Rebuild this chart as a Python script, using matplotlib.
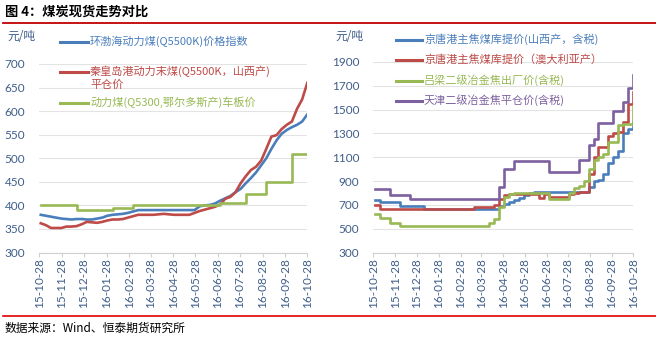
import numpy as np
import pandas as pd
import matplotlib
matplotlib.use('Agg')
import matplotlib.pyplot as plt
import matplotlib.dates as mdates
from matplotlib.lines import Line2D

plt.rcParams['font.family'] = ['Noto Sans CJK SC', 'DejaVu Sans']

# weekly observations, 2015-10-30 .. 2016-10-28
weeks = pd.date_range('2015-10-30', periods=53, freq='7D')
month_ticks = pd.date_range('2015-10-28', periods=13, freq=pd.DateOffset(months=1))

# left panel: thermal coal (yuan/t)
bohai = [380, 378, 376, 374, 372, 371, 370, 371, 371, 370,
         370, 372, 374, 378, 380, 381, 382, 384, 387, 390] + [390] * 11 + \
        [398, 400, 401, 404, 410, 415, 420, 428, 435, 447, 458,
         470, 485, 500, 520, 538, 552, 560, 566, 571, 578, 593]
qhd = [362, 358, 352, 352, 352, 355, 355, 356, 360, 365, 364, 363, 365, 368,
       370, 370, 371, 374, 377, 380, 380, 380, 380, 381, 382, 381, 380, 380,
       380, 380, 384, 388, 391, 394, 397, 402, 414, 418, 428, 447, 462, 475,
       482, 495, 520, 546, 549, 562, 571, 578, 605, 625, 660]
ordos = [400] * 7 + [390] * 7 + [395] * 4 + [400] * 17 + [405] * 5 + \
        [425] * 4 + [450] * 5 + [510] * 4
left_names = ['环渤海动力煤(Q5500K)价格指数',
              '秦皇岛港动力末煤(Q5500K，山西产)\n平仓价',
              '动力煤(Q5300,鄂尔多斯产)车板价']

# right panel: coking coal / coke (yuan/t)
sx_coking = [740] + [720] * 4 + [690] * 5 + [665] * 15 + \
            [690, 710, 720, 740, 760, 780, 800] + [810] * 11 + \
            [850, 900, 910, 960, 1050, 1100, 1150, 1300, 1340, 1400]
au_coking = [700, 668] + [665] * 18 + [680] * 4 + [700, 750, 780] + [790] * 6 + \
            [760, 790] + [770] * 4 + [790, 800, 810, 810] + \
            [960, 1100, 1190, 1190, 1280, 1300, 1310, 1400, 1550, 1650]
lvliang = [620, 590, 590, 550, 550] + [520] * 18 + [545, 580, 680, 770, 790] + \
          [800] * 7 + [750] * 4 + [800, 840, 860, 900, 1000, 1080, 1100, 1130,
                                   1230, 1230, 1370, 1380, 1380, 1530]
tianjin = [830] * 3 + [780] * 4 + [750] * 18 + [850, 1000, 1000] + [1070] * 7 + \
          [980] * 6 + [1080, 1080, 1200, 1250, 1390, 1390, 1390, 1490, 1490,
                       1560, 1680, 1790]
right_names = ['京唐港主焦煤库提价(山西产，含税)',
               '京唐港主焦煤库提价（澳大利亚产）',
               '吕梁二级冶金焦出厂价(含税)',
               '天津二级冶金焦平仓价(含税)']

blue, red, green, purple = '#4A7EBB', '#BE4B48', '#98B954', '#7D60A0'
label_col = '#3F5E8A'

fig = plt.figure(figsize=(6.56, 3.37), dpi=100)
W, H = 656, 337


def style(ax, ylo, yhi, step):
    ax.set_xlim(month_ticks[0], month_ticks[-1])
    ax.set_ylim(ylo, yhi)
    ax.set_yticks(np.arange(ylo, yhi + 1, step))
    ax.set_xticks(month_ticks)
    ax.xaxis.set_major_formatter(mdates.DateFormatter('%y-%m-%d'))
    for s in ['top', 'right', 'left']:
        ax.spines[s].set_visible(False)
    ax.spines['bottom'].set_color('#D0D0D0')
    ax.grid(axis='y', color='#E3E3E3', lw=0.8)
    ax.set_axisbelow(True)
    ax.tick_params(axis='y', length=0, pad=10, labelsize=8.5, labelcolor=label_col)
    ax.tick_params(axis='x', length=3, width=0.8, color='#D0D0D0', pad=1,
                   labelsize=8.5, labelcolor=label_col, labelrotation=90)
    for t in ax.get_xticklabels() + ax.get_yticklabels():
        t.set_fontfamily(['Lato', 'DejaVu Sans'])


def legend(x0, x1, xt, rows, names, colors):
    for y, name, c in zip(rows, names, colors):
        fig.add_artist(Line2D([x0 / W, x1 / W], [1 - y / H, 1 - y / H],
                              color=c, lw=2.2))
        fig.text(xt / W, 1 - (y - 6.5) / H, name, color=c, fontsize=8,
                 va='top', ha='left', linespacing=1.25)


# left
axl = fig.add_axes([39.3 / W, 1 - 252.5 / H, 268 / W, 188.5 / H])
axl.plot(weeks, bohai, color=blue, lw=1.9)
axl.plot(weeks, qhd, color=red, lw=1.9)
axl.plot(weeks, ordos, color=green, lw=1.9, drawstyle='steps-post')
style(axl, 300, 700, 50)
legend(60, 88, 90, [42, 72, 103], left_names, [blue, red, green])
fig.text(7 / W, 1 - 37 / H, '元/吨', fontsize=8.5, color=label_col, va='center')

# right
axr = fig.add_axes([373.3 / W, 1 - 252.5 / H, 260 / W, 190.5 / H])
for vals, c in zip([sx_coking, au_coking, lvliang, tianjin], [blue, red, green, purple]):
    axr.plot(weeks, vals, color=c, lw=1.9, drawstyle='steps-post')
style(axr, 300, 1900, 200)
legend(396, 422, 424, [39.5, 60, 80.5, 101], right_names, [blue, red, green, purple])
fig.text(335 / W, 1 - 37 / H, '元/吨', fontsize=8.5, color=label_col, va='center')

# title, rules, source
fig.text(5 / W, 1 - 12 / H, '图 4：煤炭现货走势对比', fontsize=9.5, fontweight='bold',
         va='center', ha='left')
fig.add_artist(Line2D([3 / W, 1], [1 - 22.5 / H] * 2, color='#C00000', lw=1.3))
fig.add_artist(Line2D([3 / W, 1], [1 - 316 / H] * 2, color='#E00000', lw=1.2))
fig.text(5 / W, 1 - 328 / H, '数据来源：Wind、恒泰期货研究所', fontsize=8.5,
         va='center', ha='left')

fig.savefig('out.png', dpi=100)
